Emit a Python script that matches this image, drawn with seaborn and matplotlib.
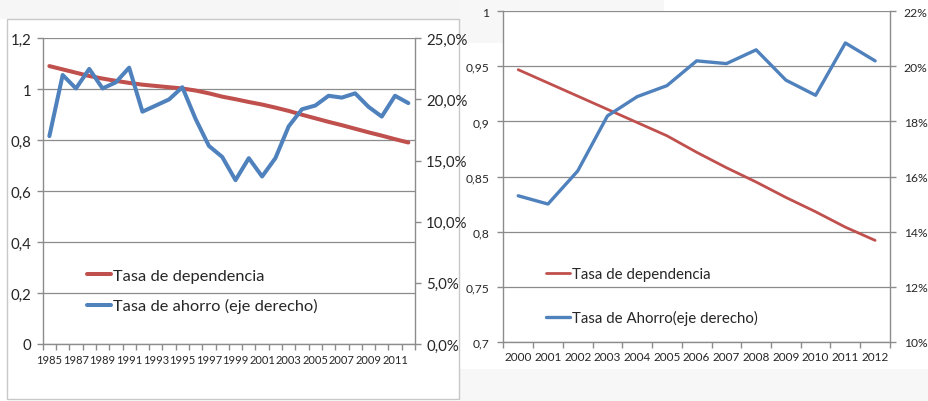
import numpy as np
import pandas as pd
import matplotlib.pyplot as plt
import matplotlib.ticker as mticker
from matplotlib.patches import Rectangle
import seaborn as sns

# panel 1: 1985-2012
years_a = list(range(1985, 2013))
dependencia_a = [1.091, 1.078, 1.065, 1.052, 1.042, 1.033, 1.025, 1.018, 1.013, 1.008,
                 1.003, 0.995, 0.984, 0.971, 0.961, 0.950, 0.940, 0.928, 0.915, 0.900,
                 0.886, 0.872, 0.859, 0.845, 0.831, 0.818, 0.804, 0.791]
ahorro_a = [17.0, 22.0, 20.9, 22.5, 20.9, 21.4, 22.6, 19.0, 19.5, 20.0,
            21.0, 18.4, 16.2, 15.3, 13.4, 15.2, 13.7, 15.2, 17.8, 19.2,
            19.5, 20.3, 20.15, 20.5, 19.4, 18.6, 20.3, 19.7]

# panel 2: 2000-2012
years_b = list(range(2000, 2013))
dependencia_b = [0.947, 0.935, 0.923, 0.911, 0.899, 0.887, 0.872, 0.858, 0.845,
                 0.831, 0.818, 0.804, 0.792]
ahorro_b = [15.3, 15.0, 16.2, 18.2, 18.9, 19.3, 20.2, 20.1, 20.6, 19.5, 18.95, 20.85, 20.2]

RED = '#C0504D'
BLUE = '#4F81BD'
GRID = '#8C8C8C'

sns.set_style('white')
plt.rcParams['font.family'] = ['Lato', 'DejaVu Sans']

df_a = pd.DataFrame({'year': years_a, 'dep': dependencia_a, 'aho': ahorro_a})
df_b = pd.DataFrame({'year': years_b, 'dep': dependencia_b, 'aho': ahorro_b})


def comma(v, dec):
    s = f'{v:.{dec}f}'.replace('.', ',')
    return s


fig = plt.figure(figsize=(9.29, 4.02), dpi=100)

# screenshot background bits
fig.patches.append(Rectangle((0, 0.95), 0.495, 0.05, transform=fig.transFigure,
                             facecolor='#F6F6F6', edgecolor='none', zorder=-3))
fig.patches.append(Rectangle((0.007, 0.005), 0.487, 0.945, transform=fig.transFigure,
                             facecolor='white', edgecolor='#C8C8C8', lw=1, zorder=-2))
fig.patches.append(Rectangle((0.495, 0.89), 0.22, 0.11, transform=fig.transFigure,
                             facecolor='#F7F7F7', edgecolor='none', zorder=-3))
fig.patches.append(Rectangle((0.495, 0.0), 0.505, 0.08, transform=fig.transFigure,
                             facecolor='#F7F7F7', edgecolor='none', zorder=-3))


def style_axes(ax, ax2, x0, x1, fs_tick, fs_x):
    for a in (ax, ax2):
        for s in a.spines.values():
            s.set_visible(False)
    ax.spines['left'].set_visible(True)
    ax.spines['bottom'].set_visible(True)
    ax2.spines['right'].set_visible(True)
    for a, side in ((ax, 'left'), (ax, 'bottom'), (ax2, 'right')):
        a.spines[side].set_color(GRID)
        a.spines[side].set_linewidth(1.0)
    ax.grid(axis='y', color=GRID, lw=0.9)
    ax.set_axisbelow(True)
    ax.set_xlim(x0 - 0.5, x1 + 0.5)
    ax.xaxis.set_minor_locator(mticker.FixedLocator(np.arange(x0 - 0.5, x1 + 1.0, 1.0)))
    ax.tick_params(axis='x', which='minor', length=4, width=1, color=GRID, direction='out', bottom=True)
    ax.tick_params(axis='x', which='major', length=0, labelsize=fs_x, pad=7)
    ax.tick_params(axis='y', length=4, width=1, color=GRID, direction='out', left=True,
                   labelsize=fs_tick, pad=4)
    ax2.tick_params(axis='y', length=4, width=1, color=GRID, direction='out', right=True,
                    labelsize=fs_tick, pad=4)
    ax.set_xlabel('')
    ax.set_ylabel('')
    ax2.set_ylabel('')


# ---- left chart ----
axA = fig.add_axes([0.046, 0.1418, 0.4007, 0.7604])
axA2 = axA.twinx()
sns.lineplot(data=df_a, x='year', y='dep', ax=axA, color=RED, lw=2.9, legend=False)
sns.lineplot(data=df_a, x='year', y='aho', ax=axA2, color=BLUE, lw=2.9, legend=False)
axA.set_ylim(0, 1.2)
axA2.set_ylim(0, 25)
axA.set_yticks(np.arange(0, 1.21, 0.2))
axA.yaxis.set_major_formatter(mticker.FuncFormatter(lambda v, p: '0' if abs(v) < 1e-9 else ('1' if abs(v - 1) < 1e-9 else comma(v, 1))))
axA2.set_yticks(np.arange(0, 25.1, 5))
axA2.yaxis.set_major_formatter(mticker.FuncFormatter(lambda v, p: comma(v, 1) + '%'))
axA.set_xticks(years_a[::2])
axA.set_xticklabels([str(y) for y in years_a[::2]])
style_axes(axA, axA2, years_a[0], years_a[-1], 10.8, 8)
hA = axA.get_lines()[:1] + axA2.get_lines()[:1]
axA.legend(handles=hA, labels=['Tasa de dependencia', 'Tasa de ahorro (eje derecho)'],
           loc='upper left', bbox_to_anchor=(0.1, 0.268), frameon=False, fontsize=11.8,
           handlelength=1.5, handletextpad=0.1, labelspacing=0.92, borderaxespad=0)

# ---- right chart ----
axB = fig.add_axes([0.5418, 0.1475, 0.4162, 0.8219])
axB2 = axB.twinx()
sns.lineplot(data=df_b, x='year', y='dep', ax=axB, color=RED, lw=2.0, legend=False)
sns.lineplot(data=df_b, x='year', y='aho', ax=axB2, color=BLUE, lw=2.4, legend=False)
axB.set_ylim(0.7, 1.0)
axB2.set_ylim(10, 22)
axB.set_yticks([0.7, 0.75, 0.8, 0.85, 0.9, 0.95, 1.0])
axB.yaxis.set_major_formatter(mticker.FuncFormatter(lambda v, p: '1' if abs(v - 1) < 1e-9 else comma(round(v, 2), 2).rstrip('0')))
axB2.set_yticks(np.arange(10, 22.1, 2))
axB2.yaxis.set_major_formatter(mticker.FuncFormatter(lambda v, p: f'{v:.0f}%'))
axB.set_xticks(years_b)
axB.set_xticklabels([str(y) for y in years_b])
style_axes(axB, axB2, years_b[0], years_b[-1], 8.7, 8.5)
axB.tick_params(axis='y', pad=6)
axB2.tick_params(axis='y', pad=6)
hB = axB.get_lines()[:1] + axB2.get_lines()[:1]
axB.legend(handles=hB, labels=['Tasa de dependencia', 'Tasa de Ahorro(eje derecho)'],
           loc='upper left', bbox_to_anchor=(0.095, 0.243), frameon=False, fontsize=10.8,
           handlelength=1.6, handletextpad=0.1, labelspacing=1.9, borderaxespad=0)

fig.savefig('out.png', dpi=100)
